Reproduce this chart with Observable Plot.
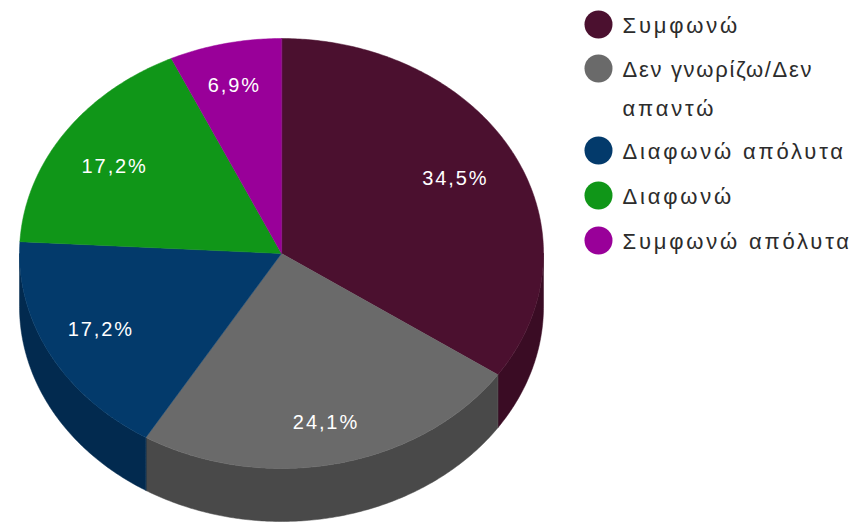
<!DOCTYPE html>
<html>
<head>
<meta charset="utf-8">
<script src="https://cdn.jsdelivr.net/npm/d3@7"></script>
<script src="https://cdn.jsdelivr.net/npm/@observablehq/plot@0.6"></script>
<style>
html,body{margin:0;padding:0;background:#fff;overflow:hidden}
svg{display:block}
.lg text{letter-spacing:2.8px}
.lgtight text{letter-spacing:1.7px}
.pct text{letter-spacing:1.9px}
</style>
</head>
<body>
<div id="chart"></div>
<script>
const categories = ["Συμφωνώ","Δεν γνωρίζω/Δεν απαντώ","Διαφωνώ απόλυτα","Διαφωνώ","Συμφωνώ απόλυτα"];
const values = [34.5,24.1,17.2,17.2,6.9];
const labels = ["34,5%","24,1%","17,2%","17,2%","6,9%"];
const topColors = ["#4b102f","#6a6a6a","#033a6b","#109618","#990099"];
const sideColors = ["#3a0c24","#494949","#022a4f","#0b6f12","#6f006f"];

// layout
const W = 861, H = 522;
const cx = 281, cy = 253, rx = 262, ry = 215, depth = 53;
const labelRadii = [0.75, 0.8, 0.78, 0.76, 0.8];
const labelNudge = [[0, 0], [0, 1], [0, -2], [-2, 5], [-2, 0]];
const at = (a, r = 1, dy = 0) => ({x: cx + rx * r * Math.sin(a), y: cy - ry * r * Math.cos(a) + dy});
const arcAngles = (a0, a1) => {
  const n = Math.max(2, Math.ceil(Math.abs(a1 - a0) / 0.01));
  return d3.range(n + 1).map(i => a0 + (a1 - a0) * i / n);
};

const arcs = d3.pie().sort(null).value(d => d)(values);

const topPts = arcs.flatMap((s, i) => [
  {x: cx, y: cy, key: i, color: topColors[i]},
  ...arcAngles(s.startAngle, s.endAngle).map(a => ({...at(a), key: i, color: topColors[i]}))
]);

// Visible wall: the lower half of the ellipse
const sidePts = arcs.flatMap((s, i) => {
  const a0 = Math.max(s.startAngle, Math.PI / 2), a1 = Math.min(s.endAngle, 3 * Math.PI / 2);
  if (a1 <= a0) return [];
  const as = arcAngles(a0, a1);
  return [
    ...as.map(a => ({...at(a), key: i, color: sideColors[i]})),
    ...as.slice().reverse().map(a => ({...at(a, 1, depth), key: i, color: sideColors[i]}))
  ];
});

const pctPts = arcs.map((s, i) => {
  const p = at((s.startAngle + s.endAngle) / 2, labelRadii[i]);
  return {x: p.x + labelNudge[i][0], y: p.y + labelNudge[i][1], label: labels[i]};
});

// Legend rows; the second entry wraps on two lines
const legendRowY = [24, 68, 150, 195, 240];
const legendDots = categories.map((c, i) => ({y: legendRowY[i], color: topColors[i]}));
const legendLines = [
  {t: "Συμφωνώ", y: 25, tight: false},
  {t: "Δεν γνωρίζω/Δεν", y: 69, tight: true},
  {t: "απαντώ", y: 108, tight: false},
  {t: "Διαφωνώ απόλυτα", y: 151, tight: false},
  {t: "Διαφωνώ", y: 196, tight: false},
  {t: "Συμφωνώ απόλυτα", y: 241, tight: false}
];

const lgText = (rows, className) => Plot.text(rows, {
  x: () => 622, y: "y", text: "t", textAnchor: "start", fill: "#2c2c2c",
  fontFamily: "Liberation Sans", fontSize: 22, className
});

const chart = Plot.plot({
  width: W, height: H, margin: 0,
  x: {domain: [0, W], range: [0, W], axis: null},
  y: {domain: [0, H], range: [0, H], axis: null},
  style: {background: "#fff"},
  marks: [
    Plot.line(sidePts, {x: "x", y: "y", z: "key", fill: "color", stroke: "color", strokeWidth: 0.5, curve: "linear-closed"}),
    Plot.line(topPts, {x: "x", y: "y", z: "key", fill: "color", stroke: "color", strokeWidth: 0.5, curve: "linear-closed"}),
    Plot.text(pctPts, {x: "x", y: "y", text: "label", fill: "#fff", fontFamily: "Liberation Sans", fontSize: 20, className: "pct"}),
    Plot.dot(legendDots, {x: () => 598, y: "y", r: 14, fill: "color", stroke: null}),
    lgText(legendLines.filter(d => !d.tight), "lg"),
    lgText(legendLines.filter(d => d.tight), "lgtight")
  ]
});
document.getElementById("chart").appendChild(chart);
</script>
</body>
</html>
